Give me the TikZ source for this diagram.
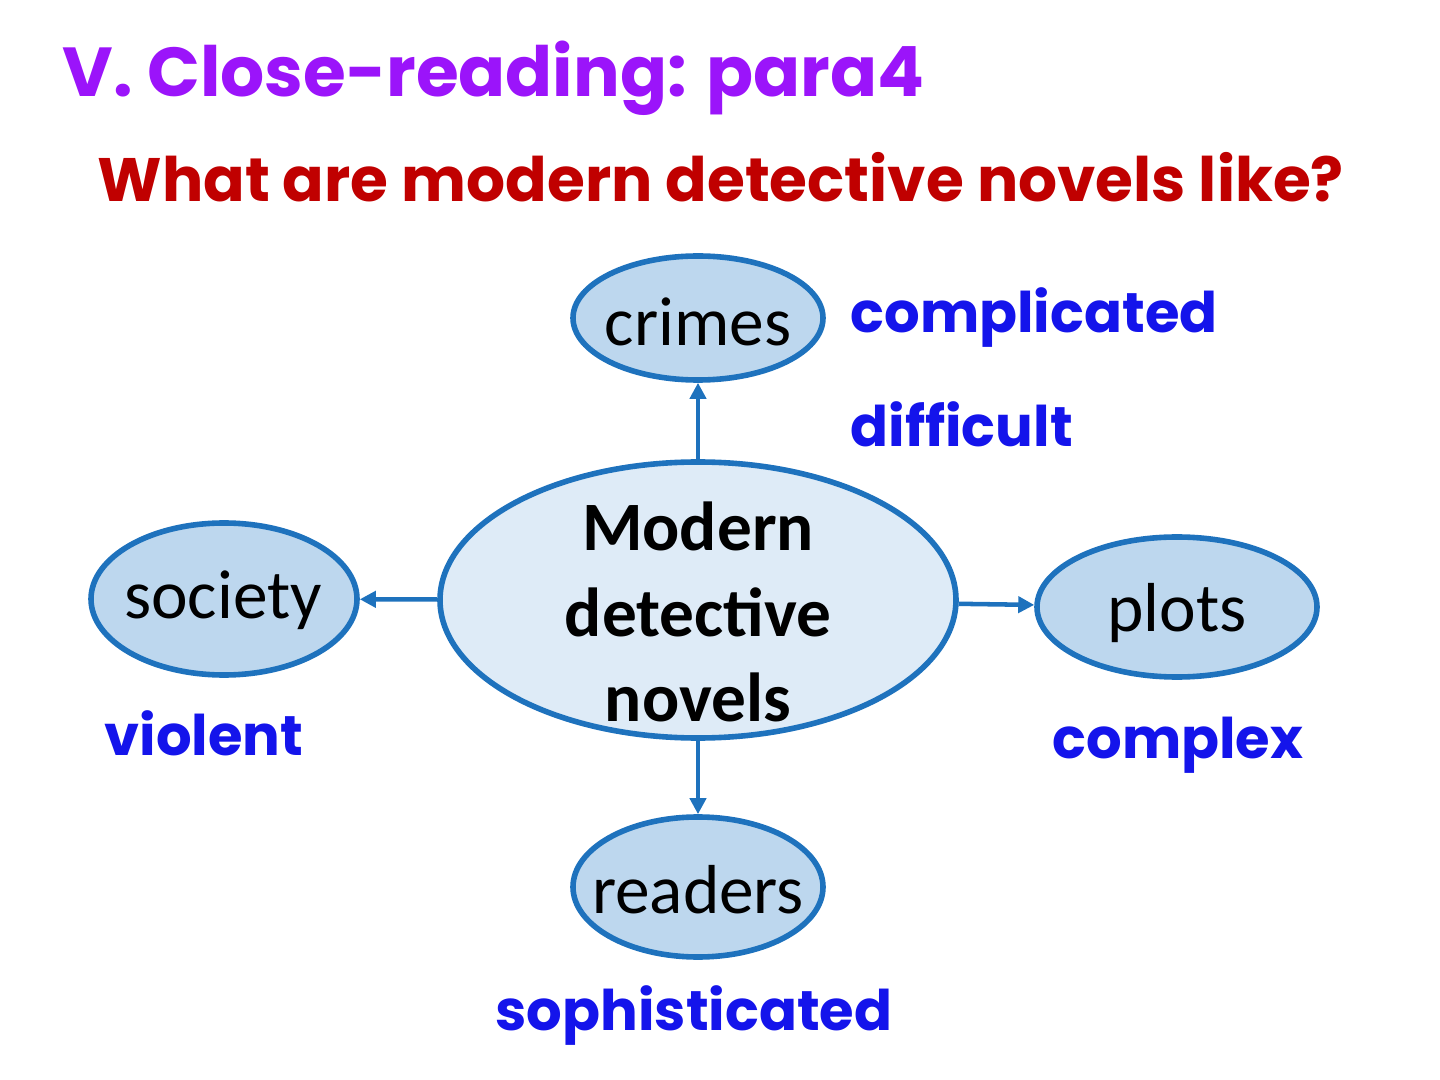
\documentclass[tikz,border=0pt]{standalone}
\usepackage{fontspec}
\usetikzlibrary{shapes.geometric,arrows.meta}
\setmainfont{Carlito}
\newfontfamily\comicfont{Poppins}

\definecolor{titlepurple}{RGB}{155,20,250}
\definecolor{askred}{RGB}{192,0,0}
\definecolor{wordblue}{RGB}{20,20,235}
\definecolor{rimblue}{RGB}{30,114,189}
\definecolor{bubblefill}{RGB}{189,215,238}
\definecolor{corefill}{RGB}{222,235,247}

\tikzset{every picture/.style={line width=0.75pt}}
\tikzset{
  bubble/.style={ellipse, draw=rimblue, line width=4.2pt, fill=bubblefill, inner sep=0pt},
  bubbletext/.style={font=\fontsize{52}{60}\selectfont, text=black, inner sep=0pt},
  adjword/.style={font=\comicfont\bfseries\fontsize{42}{50}\selectfont, text=wordblue, inner sep=0pt},
  link/.style={draw=rimblue, line width=3.4pt, -{Triangle[length=12pt,width=12pt]}}
}

\begin{document}
\begin{tikzpicture}[x=0.75pt,y=0.75pt,yscale=-1,xscale=1]
\useasboundingbox (0,0) rectangle (1440,1080);

% Title lines
\node [anchor=base west, inner sep=0pt, text=titlepurple, font=\comicfont\bfseries\fontsize{52}{60}\selectfont] (title) at (62,97) {V. Close-reading: para4};
\node [anchor=base west, inner sep=0pt, text=askred, font=\comicfont\bfseries\fontsize{46}{54}\selectfont] (question) at (97,202) {What are modern detective novels like?};

%Shape: Ellipse (centre)
\node [bubble, fill=corefill, minimum width=387pt, minimum height=207pt] (modern) at (698,600) {};
\node [bubbletext, font=\bfseries\fontsize{52}{64}\selectfont, align=center] (moderntext) at (698,612) {Modern\\detective\\novels};

%Shape: Ellipse (around)
\node [bubble, minimum width=187.5pt, minimum height=93pt] (crimes) at (698,318) {};
\node [bubbletext] (crimestext) at (698,322) {crimes};
\node [bubble, minimum width=199.5pt, minimum height=114pt] (society) at (224,599) {};
\node [bubbletext] (societytext) at (223,600) {society};
\node [bubble, minimum width=210pt, minimum height=105pt] (plots) at (1177,607) {};
\node [bubbletext] (plotstext) at (1177,613) {plots};
\node [bubble, minimum width=187.5pt, minimum height=105pt] (readers) at (698,887) {};
\node [bubbletext] (readerstext) at (698,890) {readers};

%Straight Lines
\draw [link] (modern.north) -- (crimes.south);
\draw [link] (modern) -- (society);
\draw [link] (modern) -- (plots);
\draw [link] (modern.south) -- (readers.north);

% Text Node
\node [adjword, anchor=base west] (complicated) at (850,333) {complicated};
\node [adjword, anchor=base west] (difficult) at (850,447) {difficult};
\node [adjword, anchor=base] (violent) at (204,755) {violent};
\node [adjword, anchor=base] (complex) at (1178,758) {complex};
\node [adjword, anchor=base] (sophisticated) at (694,1030) {sophisticated};

\end{tikzpicture}
\end{document}
